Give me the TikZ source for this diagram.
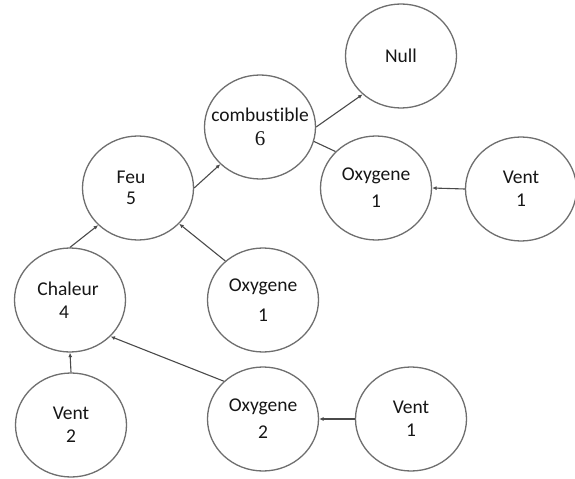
\documentclass[tikz,border=0pt]{standalone}
\usepackage{fontspec}
\setmainfont{Carlito}[Ligatures={NoCommon,NoRare}, RawFeature={-dlig}]
\newfontfamily\numserif{Liberation Serif}
\usetikzlibrary{shapes.geometric,arrows.meta}

\definecolor{ringgray}{HTML}{6E6E6E}
\definecolor{linkgray}{HTML}{4A4A4A}
\definecolor{inkgray}{HTML}{161616}

\tikzset{
  bubble/.style={ellipse, draw=ringgray, line width=1.3bp, fill=white,
    minimum width=111bp, minimum height=104bp, inner sep=-18bp,
    align=center, text=inkgray,
    font=\fontsize{19.5bp}{23bp}\selectfont},
  wide/.style={font=\fontsize{19.5bp}{27bp}\selectfont},
  link/.style={draw=linkgray, line width=1.1bp},
  arrowlink/.style={link, -{Latex[length=4.5bp,width=4bp]}}
}

\begin{document}
\begin{tikzpicture}[x=1bp, y=-1bp]
  \useasboundingbox (0,0) rectangle (575,479);

  % event nodes
  \node[bubble] (null)  at (401,56)  {Null};
  \node[bubble] (comb)  at (260,127) {combus\kern0pt tible\\[1bp]{\numserif\fontsize{21bp}{21bp}\selectfont 6}};
  \node[bubble] (feu)   at (138,188) {\hspace*{-14bp}Feu\\[-2bp]\hspace*{-14bp}5};
  \node[bubble, wide] (oxyR)  at (376,188) {Oxygene\\1};
  \node[bubble] (ventR) at (521,189) {Vent\\1};
  \node[bubble, font=\fontsize{19.5bp}{30bp}\selectfont] (oxyM) at (263,300) {Oxygene\\1};
  \node[bubble] (chal)  at (70,300)  {\hspace*{-4bp}Chaleur\\\hspace*{-12bp}4};
  \node[bubble] (vent2) at (71,425)  {Vent\\2};
  \node[bubble, wide] (oxy2)  at (263,419) {Oxygene\\2};
  \node[bubble] (ventB) at (411,419) {Vent\\1};

  % connectors
  \draw[arrowlink] (feu.east) -- (comb.south west);
  \draw[arrowlink] (comb.east) -- (null.225);
  \draw[link] (oxyR.138) -- (comb.-15);
  \draw[arrowlink] (ventR.west) -- (oxyR.east);
  \draw[arrowlink] (oxyM.134) -- (feu.-41);
  \draw[arrowlink] (chal.north) -- (feu.223);
  \draw[arrowlink] (vent2.north) -- (chal.south);
  \draw[arrowlink] (oxy2.136) -- (chal.-42);
  \draw[arrowlink] (ventB.west) -- (oxy2.east);
\end{tikzpicture}
\end{document}
